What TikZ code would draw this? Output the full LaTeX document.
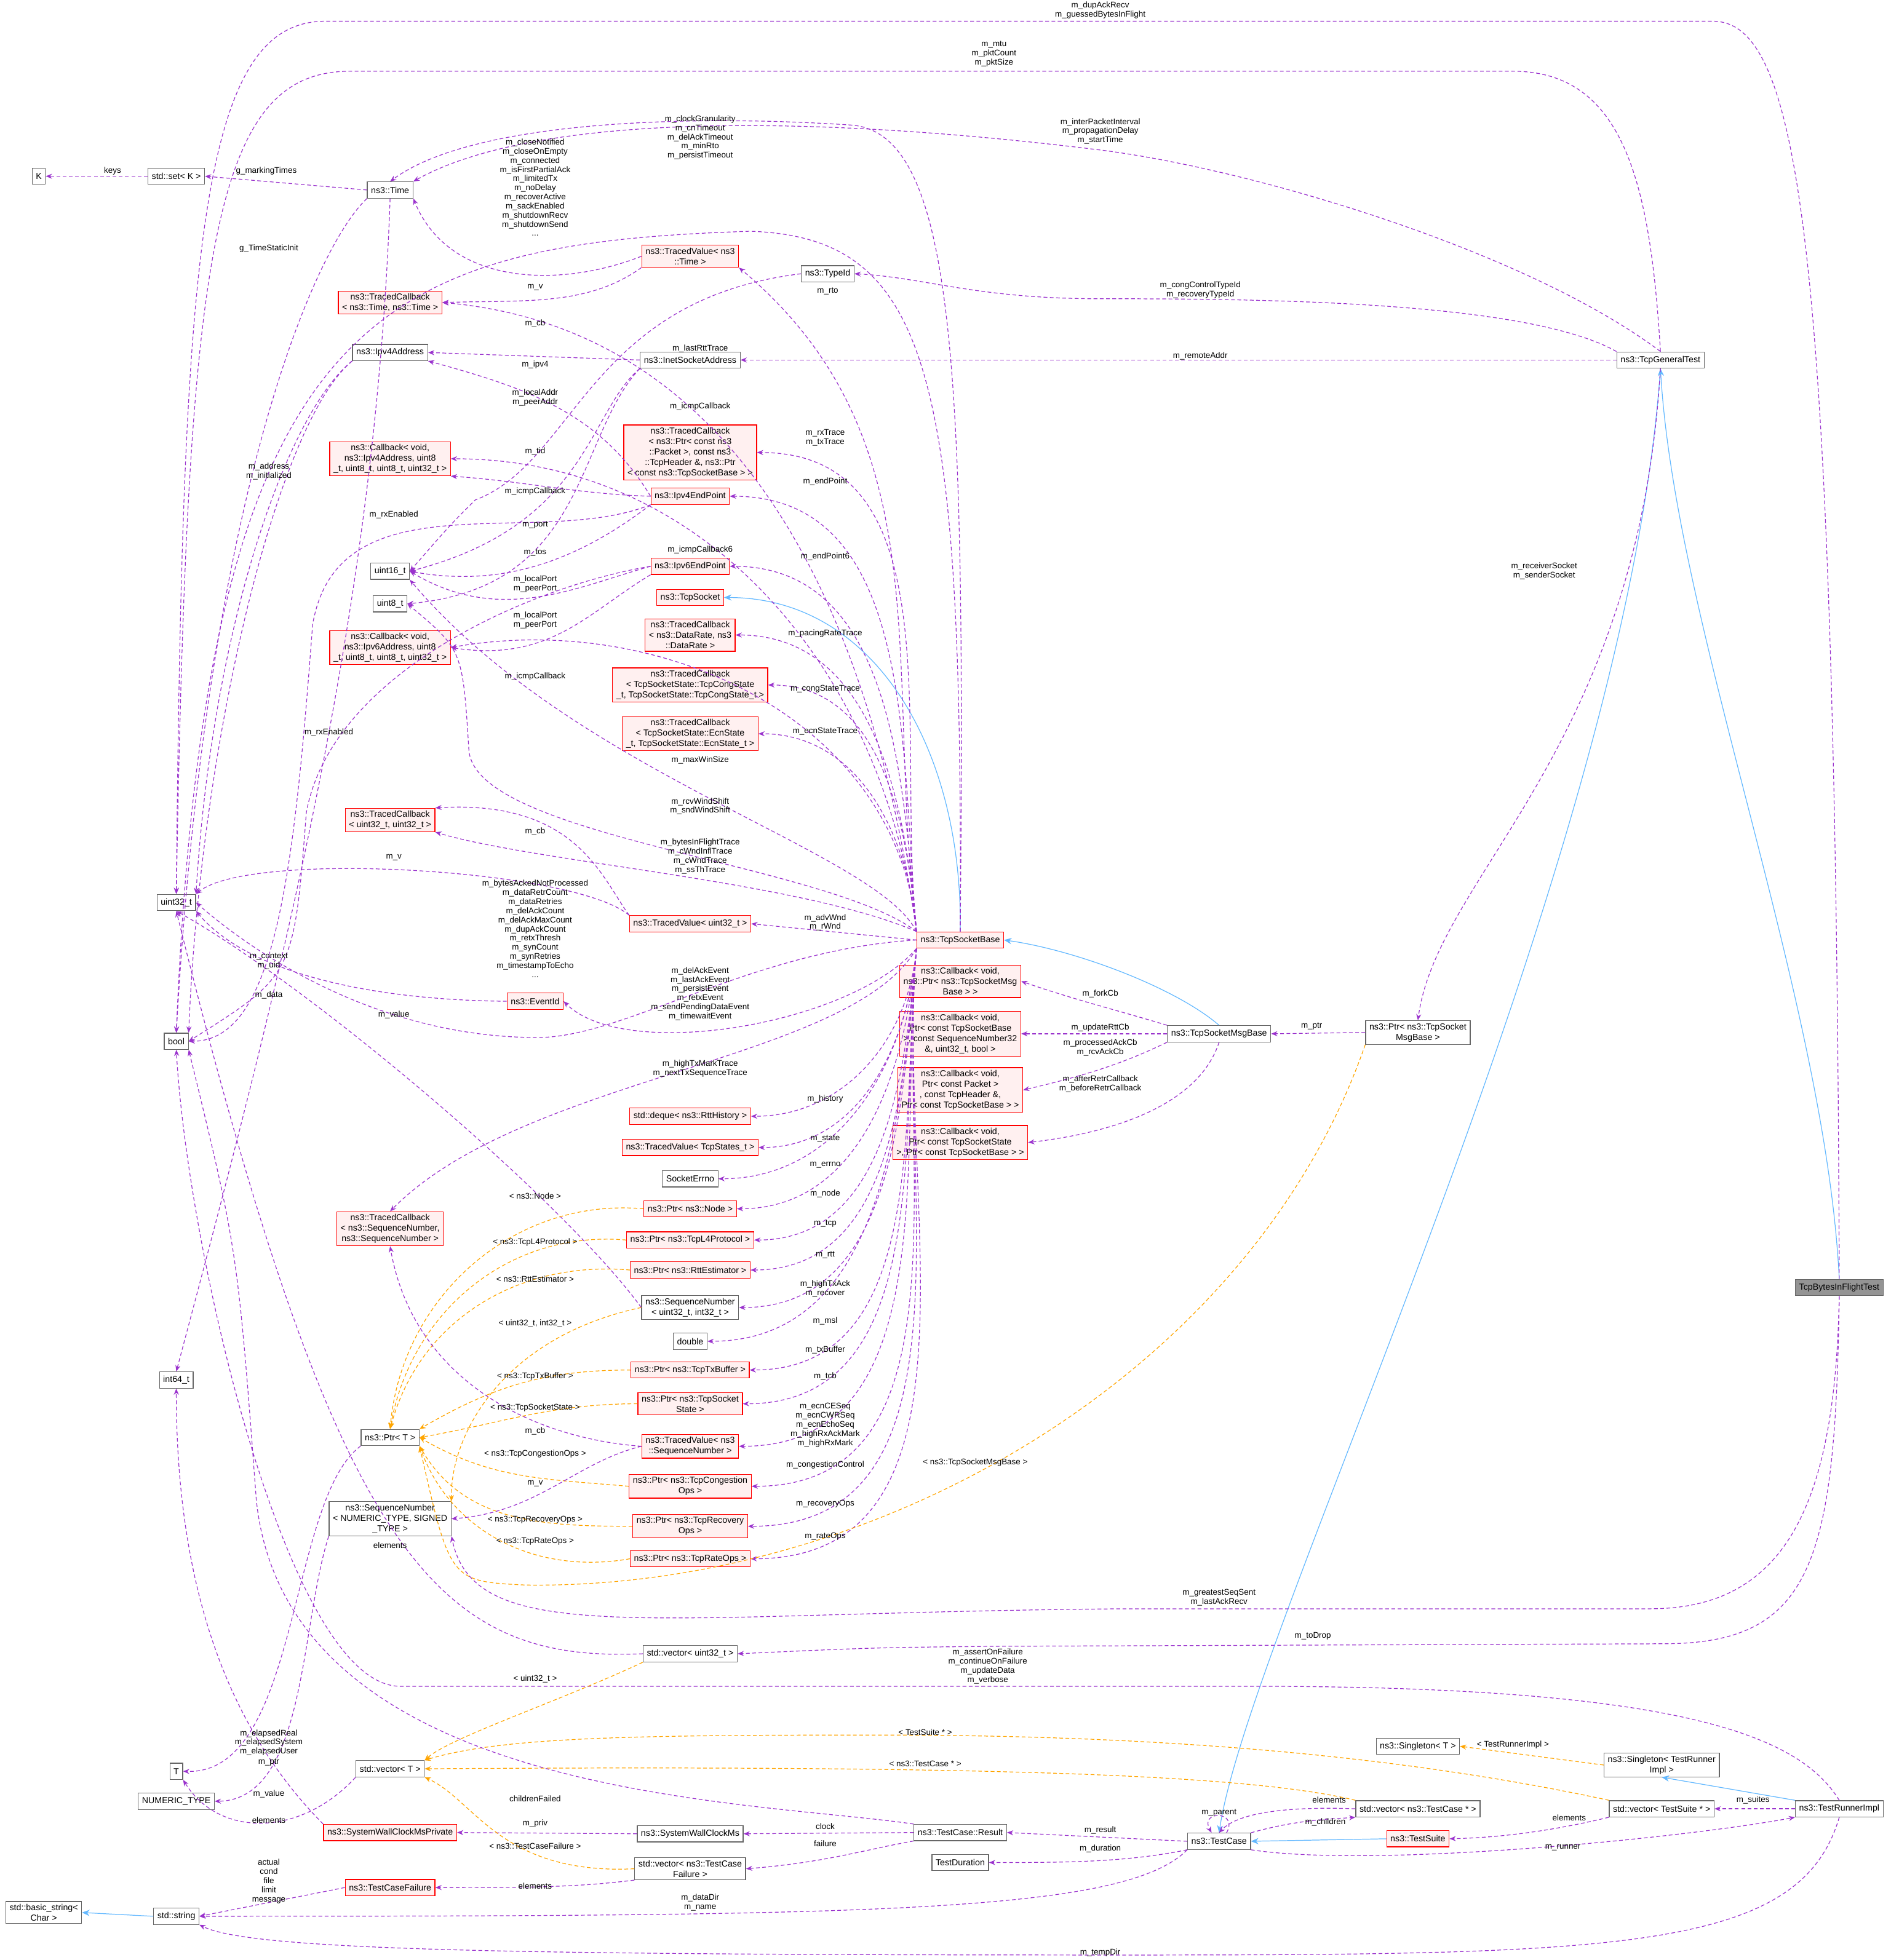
\documentclass[tikz,border=0pt]{standalone}
\usepackage{fontspec}
\setmainfont{Liberation Sans}
\usetikzlibrary{arrows.meta}
\definecolor{mempurple}{HTML}{9A32CD}
\definecolor{tplorange}{HTML}{FFA500}
\definecolor{inhblue}{HTML}{63B8FF}
\definecolor{boxgray}{HTML}{666666}
\definecolor{redfill}{HTML}{FFF0F0}

\begin{document}
\begin{tikzpicture}[
  x=1pt, y=1pt,
  font=\fontsize{7}{8.4}\selectfont,
  cls/.style={draw=boxgray, fill=white, line width=0.6pt, inner xsep=3pt,
              inner ysep=2pt, minimum height=13pt, align=center},
  rcls/.style={cls, draw=red, fill=redfill},
  gcls/.style={cls, fill=boxgray!70},
  lbl/.style={inner sep=0pt, align=center, font=\fontsize{6.6}{7.3}\selectfont},
  mem/.style={draw=mempurple, dashed, dash pattern=on 3pt off 2pt, line width=0.6pt,
              -{Stealth[length=5pt,width=4pt]}},
  tpl/.style={mem, draw=tplorange, -{Stealth[length=5pt,width=4pt]}},
  inh/.style={draw=inhblue, line width=0.6pt, -{Stealth[length=6pt,width=5pt]}}
]
\useasboundingbox (0,0) rectangle (1512,-1568);

% left column
\node[cls] (k) at (31,-141) {K};
\node[cls] (setk) at (141,-141) {std::set< K >};
\node[cls] (u32) at (141,-722) {uint32\_t};
\node[cls] (bool) at (141,-833) {bool};
\node[cls] (i64) at (141,-1104) {int64\_t};
\node[cls] (tT) at (141,-1417) {T};
\node[cls] (numtype) at (141,-1441) {NUMERIC\_TYPE};
\node[cls] (bstr) at (35,-1530) {std::basic\_string<\\Char >};
\node[cls] (str) at (141,-1533) {std::string};

% second column
\node[cls] (time) at (312,-152) {ns3::Time};
\node[rcls] (tctime) at (312,-242) {ns3::TracedCallback\\< ns3::Time, ns3::Time >};
\node[cls] (ipv4) at (312,-282) {ns3::Ipv4Address};
\node[rcls] (cbipv4) at (312,-367) {ns3::Callback< void,\\ ns3::Ipv4Address, uint8\\\_t, uint8\_t, uint8\_t, uint32\_t >};
\node[cls] (u16) at (312,-457) {uint16\_t};
\node[cls] (u8) at (312,-483) {uint8\_t};
\node[rcls] (cbipv6) at (312,-518) {ns3::Callback< void,\\ ns3::Ipv6Address, uint8\\\_t, uint8\_t, uint8\_t, uint32\_t >};
\node[rcls] (tc32) at (312,-656) {ns3::TracedCallback\\< uint32\_t, uint32\_t >};
\node[rcls] (evid) at (428,-801) {ns3::EventId};
\node[rcls] (tcseq) at (312,-983) {ns3::TracedCallback\\< ns3::SequenceNumber,\\ ns3::SequenceNumber >};
\node[cls] (ptrt) at (312,-1150) {ns3::Ptr< T >};
\node[cls] (seqnt) at (312,-1215) {ns3::SequenceNumber\\< NUMERIC\_TYPE, SIGNED\\\_TYPE >};
\node[cls] (vect) at (312,-1415) {std::vector< T >};
\node[rcls] (swpriv) at (312,-1466) {ns3::SystemWallClockMsPrivate};
\node[rcls] (tcfail) at (312,-1510) {ns3::TestCaseFailure};

% third column
\node[rcls] (tvtime) at (552,-205) {ns3::TracedValue< ns3\\::Time >};
\node[cls] (typeid) at (662,-219) {ns3::TypeId};
\node[cls] (inet) at (552,-288) {ns3::InetSocketAddress};
\node[rcls] (tcpkt) at (552,-362) {ns3::TracedCallback\\< ns3::Ptr< const ns3\\::Packet >, const ns3\\::TcpHeader \&, ns3::Ptr\\< const ns3::TcpSocketBase > >};
\node[rcls] (ipv4ep) at (552,-397) {ns3::Ipv4EndPoint};
\node[rcls] (ipv6ep) at (552,-453) {ns3::Ipv6EndPoint};
\node[rcls] (tcpsock) at (552,-478) {ns3::TcpSocket};
\node[rcls] (tcrate) at (552,-508) {ns3::TracedCallback\\< ns3::DataRate, ns3\\::DataRate >};
\node[rcls] (tccong) at (552,-548) {ns3::TracedCallback\\< TcpSocketState::TcpCongState\\\_t, TcpSocketState::TcpCongState\_t >};
\node[rcls] (tcecn) at (552,-587) {ns3::TracedCallback\\< TcpSocketState::EcnState\\\_t, TcpSocketState::EcnState\_t >};
\node[rcls] (tv32) at (552,-739) {ns3::TracedValue< uint32\_t >};
\node[rcls] (deque) at (552,-893) {std::deque< ns3::RttHistory >};
\node[rcls] (tvstates) at (552,-918) {ns3::TracedValue< TcpStates\_t >};
\node[cls] (errno) at (552,-943) {SocketErrno};
\node[rcls] (ptrnode) at (552,-967) {ns3::Ptr< ns3::Node >};
\node[rcls] (ptrtcp) at (552,-992) {ns3::Ptr< ns3::TcpL4Protocol >};
\node[rcls] (ptrrtt) at (552,-1016) {ns3::Ptr< ns3::RttEstimator >};
\node[cls] (seq32) at (552,-1046) {ns3::SequenceNumber\\< uint32\_t, int32\_t >};
\node[cls] (dbl) at (552,-1073) {double};
\node[rcls] (ptrtx) at (552,-1096) {ns3::Ptr< ns3::TcpTxBuffer >};
\node[rcls] (ptrtcb) at (552,-1123) {ns3::Ptr< ns3::TcpSocket\\State >};
\node[rcls] (tvseq) at (552,-1157) {ns3::TracedValue< ns3\\::SequenceNumber >};
\node[rcls] (ptrcong) at (552,-1189) {ns3::Ptr< ns3::TcpCongestion\\Ops >};
\node[rcls] (ptrrec) at (552,-1221) {ns3::Ptr< ns3::TcpRecovery\\Ops >};
\node[rcls] (ptrrate) at (552,-1247) {ns3::Ptr< ns3::TcpRateOps >};
\node[cls] (vec32) at (552,-1323) {std::vector< uint32\_t >};
\node[cls] (sw) at (552,-1467) {ns3::SystemWallClockMs};
\node[cls] (vectcf) at (552,-1495) {std::vector< ns3::TestCase\\Failure >};

% fourth column
\node[rcls] (tsb) at (768,-752) {ns3::TcpSocketBase};
\node[rcls] (cbfork) at (768,-785) {ns3::Callback< void,\\ ns3::Ptr< ns3::TcpSocketMsg\\Base > >};
\node[rcls] (cbrtt) at (768,-827) {ns3::Callback< void,\\ Ptr< const TcpSocketBase\\ >, const SequenceNumber32\\ \&, uint32\_t, bool >};
\node[rcls] (cback) at (768,-872) {ns3::Callback< void,\\ Ptr< const Packet >\\, const TcpHeader \&,\\ Ptr< const TcpSocketBase > >};
\node[rcls] (cbretr) at (768,-914) {ns3::Callback< void,\\ Ptr< const TcpSocketState\\ >, Ptr< const TcpSocketBase > >};
\node[cls] (result) at (768,-1466) {ns3::TestCase::Result};
\node[cls] (duration) at (768,-1490) {TestDuration};

% right part
\node[cls] (msgbase) at (975,-827) {ns3::TcpSocketMsgBase};
\node[cls] (testcase) at (975,-1473) {ns3::TestCase};
\node[cls] (ptrmsg) at (1134,-826) {ns3::Ptr< ns3::TcpSocket\\MsgBase >};
\node[cls] (singt) at (1134,-1397) {ns3::Singleton< T >};
\node[cls] (vectc) at (1134,-1447) {std::vector< ns3::TestCase * >};
\node[rcls] (suite) at (1134,-1471) {ns3::TestSuite};
\node[cls] (gentest) at (1328,-288) {ns3::TcpGeneralTest};
\node[cls] (singtr) at (1329,-1412) {ns3::Singleton< TestRunner\\Impl >};
\node[cls] (vects) at (1329,-1447) {std::vector< TestSuite * >};
\node[cls] (runner) at (1471,-1447) {ns3::TestRunnerImpl};
\node[gcls] (bift) at (1471,-1030) {TcpBytesInFlightTest};

% inheritance
\draw[inh] (tsb.north) .. controls (770,-600) and (700,-478) .. (tcpsock.east);
\draw[inh] (msgbase.north) .. controls (940,-790) and (860,-760) .. (tsb.east);
\draw[inh] (bift.north) .. controls (1460,-800) and (1340,-500) .. (gentest.south);
\draw[inh] (gentest.south) .. controls (1300,-700) and (1000,-1300) .. (testcase.north);
\draw[inh] (suite.west) -- (testcase.east);
\draw[inh] (runner.north west) -- (singtr.south);
\draw[inh] (str.west) -- (bstr.east);

% long edges from the test classes
\draw[mem] (bift.north) .. controls (1468,-200) and (1440,-17) .. (1370,-17)
  -- (260,-17) .. controls (160,-17) and (146,-200) .. (u32.north);
\draw[mem] (gentest.north) .. controls (1320,-150) and (1300,-57) .. (1210,-57)
  -- (280,-57) .. controls (170,-57) and (150,-200) .. (u32.north);
\draw[mem] (gentest.north) .. controls (1220,-200) and (1000,-135) .. (880,-120)
  .. controls (620,-88) and (420,-95) .. (time.north east);
\draw[mem] (gentest.north west) .. controls (1220,-240) and (1000,-239) .. (880,-239)
  .. controls (780,-239) and (740,-222) .. (typeid.east);
\draw[mem] (gentest.west) -- (inet.east);
\draw[mem] (gentest.south) .. controls (1310,-600) and (1150,-700) .. (ptrmsg.north);
\draw[mem] (bift.south) .. controls (1468,-1200) and (1430,-1287) .. (1320,-1287)
  -- (900,-1287) .. controls (520,-1290) and (380,-1320) .. (seqnt.south east);
\draw[mem] (bift.south) .. controls (1468,-1250) and (1450,-1315) .. (1330,-1315)
  -- (800,-1317) .. controls (700,-1318) .. (vec32.east);
\draw[mem] (runner.north) .. controls (1440,-1390) and (1350,-1349) .. (1000,-1349)
  -- (320,-1349) .. controls (230,-1349) and (150,-1000) .. (bool.south);
\draw[mem] (runner.south) .. controls (1440,-1560) and (1300,-1564) .. (900,-1564)
  .. controls (400,-1564) and (200,-1560) .. (str.south east);

% Time and friends
\draw[mem] (setk.west) -- (k.east);
\draw[mem] (time.west) -- (setk.east);
\draw[mem] (tsb.north) .. controls (772,-300) and (765,-105) .. (680,-100)
  .. controls (560,-92) and (380,-95) .. (time.north);
\draw[mem] (tsb.north) .. controls (770,-300) and (745,-190) .. (600,-185)
  .. controls (300,-195) and (165,-250) .. (bool.north);
\draw[mem] (time.south west) .. controls (250,-200) and (165,-400) .. (bool.north);
\draw[mem] (time.south) .. controls (300,-500) and (220,-800) .. (i64.north);
\draw[mem] (tvtime.west) .. controls (450,-230) and (360,-230) .. (time.south east);
\draw[mem] (tvtime.south west) .. controls (470,-245) and (420,-240) .. (tctime.east);
\draw[mem] (tsb.north west) to[out=97,in=-40] (tvtime.south east);
\draw[mem] (tsb.north west) to[out=98,in=-5] (tctime.east);

% addresses and end points
\draw[mem] (inet.west) -- (ipv4.east);
\draw[mem] (ipv4ep.west) .. controls (480,-330) and (420,-310) .. (ipv4.south east);
\draw[mem] (ipv4.south west) .. controls (230,-330) and (170,-500) .. (u32.north east);
\draw[mem] (ipv4.south west) .. controls (220,-340) and (160,-600) .. (bool.north east);
\draw[mem] (tsb.north west) to[out=97,in=0] (cbipv4.east);
\draw[mem] (typeid.west) .. controls (470,-240) and (460,-370) .. (380,-400)
  .. controls (360,-420) .. (u16.east);
\draw[mem] (tsb.north west) to[out=96,in=0] (tcpkt.east);
\draw[mem] (ipv4ep.west) .. controls (460,-395) and (420,-385) .. (cbipv4.south east);
\draw[mem] (inet.south west) .. controls (470,-330) and (470,-420) .. (u16.east);
\draw[mem] (tsb.north west) to[out=95,in=0] (ipv4ep.east);
\draw[mem] (inet.south west) .. controls (460,-350) and (470,-470) .. (u8.east);
\draw[mem] (ipv4ep.south west) .. controls (430,-440) and (270,-380) .. (250,-500)
  .. controls (235,-700) and (220,-833) .. (bool.east);
\draw[mem] (tsb.north west) to[out=95,in=10] (cbipv6.east);
\draw[mem] (tsb.north west) to[out=95,in=0] (ipv6ep.east);
\draw[mem] (ipv4ep.south west) .. controls (460,-450) and (400,-470) .. (u16.east);
\draw[mem] (ipv6ep.west) .. controls (460,-470) and (400,-500) .. (u16.east);
\draw[mem] (ipv6ep.south west) .. controls (470,-490) and (440,-530) .. (cbipv6.east);
\draw[mem] (ipv6ep.west) .. controls (420,-470) and (265,-540) .. (245,-650)
  .. controls (235,-780) .. (bool.east);

% traces of the socket
\draw[mem] (tsb.north west) to[out=95,in=0] (tcrate.east);
\draw[mem] (tsb.north west) to[out=95,in=0] (tccong.east);
\draw[mem] (tsb.north west) to[out=95,in=0] (tcecn.east);
\draw[mem] (tsb.north west) .. controls (700,-680) and (460,-620) .. (u16.south east);
\draw[mem] (tsb.north west) .. controls (660,-690) and (380,-670) .. (375,-600)
  .. controls (370,-520) .. (u8.east);
\draw[mem] (tv32.north west) .. controls (480,-700) and (460,-640) .. (tc32.north east);
\draw[mem] (tsb.north west) .. controls (640,-705) and (430,-690) .. (tc32.south east);
\draw[mem] (tv32.north west) .. controls (460,-695) and (200,-680) .. (u32.north east);
\draw[mem] (tsb.west) -- (tv32.east);
\draw[mem] (tsb.west) .. controls (600,-760) and (500,-830) .. (430,-830)
  .. controls (300,-830) and (200,-760) .. (u32.east);
\draw[mem] (evid.west) .. controls (300,-800) and (200,-780) .. (u32.south east);
\draw[mem] (tsb.south west) .. controls (680,-820) and (500,-850) .. (evid.east);
\draw[mem] (seq32.west) .. controls (450,-960) and (250,-790) .. (u32.south);
\draw[mem] (tsb.south west) .. controls (680,-850) and (420,-860) .. (tcseq.north);

% message base
\draw[mem] (ptrmsg.west) -- (msgbase.east);
\draw[mem] (msgbase.north west) .. controls (900,-810) and (860,-800) .. (cbfork.east);
\draw[mem] (msgbase.west) -- (cbrtt.east);
\draw[mem] (msgbase.south west) .. controls (900,-850) and (870,-860) .. (cback.east);
\draw[mem] (msgbase.south) .. controls (960,-880) and (900,-905) .. (cbretr.east);

% lower members of the socket
\draw[mem] (tsb.south west) to[out=-95,in=0] (deque.east);
\draw[mem] (tsb.south west) to[out=-95,in=0] (tvstates.east);
\draw[mem] (tsb.south west) to[out=-95,in=0] (errno.east);
\draw[mem] (tsb.south west) to[out=-95,in=0] (ptrnode.east);
\draw[mem] (tsb.south west) to[out=-95,in=0] (ptrtcp.east);
\draw[mem] (tsb.south west) to[out=-95,in=0] (ptrrtt.east);
\draw[mem] (tsb.south west) to[out=-95,in=0] (seq32.east);
\draw[mem] (tsb.south west) to[out=-95,in=0] (dbl.east);
\draw[mem] (tsb.south west) to[out=-95,in=0] (ptrtx.east);
\draw[mem] (tsb.south west) to[out=-95,in=0] (ptrtcb.east);
\draw[mem] (tsb.south west) to[out=-95,in=0] (tvseq.east);
\draw[mem] (tsb.south west) to[out=-95,in=0] (ptrcong.east);
\draw[mem] (tsb.south west) to[out=-95,in=0] (ptrrec.east);
\draw[mem] (tsb.south west) to[out=-95,in=0] (ptrrate.east);

% template instances of Ptr
\draw[tpl] (ptrnode.west) to[out=175,in=85] (ptrt.north);
\draw[tpl] (ptrtcp.west) to[out=175,in=80] (ptrt.north);
\draw[tpl] (ptrrtt.west) to[out=175,in=75] (ptrt.north);
\draw[tpl] (ptrtx.west) to[out=180,in=30] (ptrt.north east);
\draw[tpl] (ptrtcb.west) to[out=180,in=10] (ptrt.east);
\draw[tpl] (ptrcong.west) to[out=175,in=-30] (ptrt.east);
\draw[tpl] (ptrrec.west) to[out=180,in=-60] (ptrt.south east);
\draw[tpl] (ptrrate.west) to[out=190,in=-70] (ptrt.south east);
\draw[tpl] (ptrmsg.south west) .. controls (1000,-1100) and (700,-1272) .. (420,-1268)
  .. controls (360,-1265) .. (ptrt.south east);
\draw[tpl] (seq32.west) .. controls (400,-1070) and (360,-1150) .. (seqnt.north east);
\draw[mem] (tvseq.west) .. controls (420,-1150) and (330,-1100) .. (tcseq.south);
\draw[mem] (tvseq.west) .. controls (460,-1170) and (430,-1210) .. (seqnt.east);

% small templates
\draw[mem] (ptrt.south west) .. controls (230,-1200) and (240,-1420) .. (tT.east);
\draw[mem] (seqnt.south west) .. controls (240,-1300) and (245,-1440) .. (numtype.east);
\draw[mem] (vect.south west) .. controls (240,-1470) and (175,-1470) .. (tT.south east);
\draw[mem] (vec32.west) .. controls (350,-1330) and (270,-1250) .. (u32.south);
\draw[tpl] (vec32.south west) .. controls (450,-1360) and (360,-1390) .. (vect.north east);
\draw[tpl] (vects.north west) .. controls (1100,-1400) and (900,-1388) .. (700,-1388)
  .. controls (500,-1388) and (400,-1390) .. (vect.north east);
\draw[tpl] (singtr.west) -- (singt.east);
\draw[tpl] (vectc.north west) .. controls (1000,-1420) and (800,-1412) .. (vect.east);

% test case results
\draw[mem] (result.north west) .. controls (600,-1440) and (230,-1440) .. (205,-1200)
  .. controls (190,-1000) .. (bool.south east);
\draw[mem] (sw.west) -- (swpriv.east);
\draw[mem] (result.west) -- (sw.east);
\draw[mem] (result.south west) .. controls (690,-1480) and (660,-1490) .. (vectcf.east);
\draw[tpl] (vectcf.west) .. controls (400,-1500) and (380,-1440) .. (vect.south east);
\draw[mem] (swpriv.north west) .. controls (200,-1400) and (141,-1300) .. (i64.south);
\draw[mem] (vectcf.south west) .. controls (460,-1510) and (420,-1510) .. (tcfail.east);
\draw[mem] (tcfail.west) -- (str.east);
\draw[mem] (testcase.south west) .. controls (900,-1530) and (700,-1533) .. (str.east);
\draw[mem] (testcase.west) -- (result.east);
\draw[mem] (testcase.south west) .. controls (900,-1490) and (850,-1490) .. (duration.east);
\draw[mem] ([xshift=6pt]testcase.north) .. controls +(10,18) and +(-10,18) .. ([xshift=-6pt]testcase.north);
\draw[mem] (testcase.north east) .. controls (1040,-1455) and (1070,-1455) .. (vectc.south west);
\draw[mem] (vectc.west) .. controls (1030,-1445) and (990,-1450) .. (testcase.north);
\draw[mem] (testcase.south east) .. controls (1100,-1495) and (1350,-1470) .. (runner.south west);
\draw[mem] (runner.west) -- (vects.east);
\draw[mem] (vects.south west) .. controls (1240,-1465) and (1200,-1470) .. (suite.east);

% labels
\node[lbl] (l1) at (880,-8) {m\_dupAckRecv\\m\_guessedBytesInFlight};
\node[lbl] (l2) at (795,-43) {m\_mtu\\m\_pktCount\\m\_pktSize};
\node[lbl] (l3) at (90,-137) {keys};
\node[lbl] (l4) at (213,-137) {g\_markingTimes};
\node[lbl] (l5) at (560,-110) {m\_clockGranularity\\m\_cnTimeout\\m\_delAckTimeout\\m\_minRto\\m\_persistTimeout};
\node[lbl] (l6) at (880,-105) {m\_interPacketInterval\\m\_propagationDelay\\m\_startTime};
\node[lbl] (l7) at (428,-150) {m\_closeNotified\\m\_closeOnEmpty\\m\_connected\\m\_isFirstPartialAck\\m\_limitedTx\\m\_noDelay\\m\_recoverActive\\m\_sackEnabled\\m\_shutdownRecv\\m\_shutdownSend\\...};
\node[lbl] (l8) at (215,-199) {g\_TimeStaticInit};
\node[lbl] (l9) at (428,-230) {m\_v};
\node[lbl] (l10) at (428,-259) {m\_cb};
\node[lbl] (l11) at (662,-233) {m\_rto};
\node[lbl] (l12) at (960,-232) {m\_congControlTypeId\\m\_recoveryTypeId};
\node[lbl] (l13) at (560,-279) {m\_lastRttTrace};
\node[lbl] (l14) at (428,-292) {m\_ipv4};
\node[lbl] (l15) at (960,-285) {m\_remoteAddr};
\node[lbl] (l16) at (428,-318) {m\_localAddr\\m\_peerAddr};
\node[lbl] (l17) at (560,-325) {m\_icmpCallback};
\node[lbl] (l18) at (215,-377) {m\_address\\m\_initialized};
\node[lbl] (l19) at (428,-361) {m\_tid};
\node[lbl] (l20) at (660,-350) {m\_rxTrace\\m\_txTrace};
\node[lbl] (l21) at (428,-393) {m\_icmpCallback};
\node[lbl] (l22) at (428,-420) {m\_port};
\node[lbl] (l23) at (660,-385) {m\_endPoint};
\node[lbl] (l24) at (428,-442) {m\_tos};
\node[lbl] (l25) at (315,-412) {m\_rxEnabled};
\node[lbl] (l26) at (560,-440) {m\_icmpCallback6};
\node[lbl] (l27) at (660,-445) {m\_endPoint6};
\node[lbl] (l28) at (428,-467) {m\_localPort\\m\_peerPort};
\node[lbl] (l29) at (428,-496) {m\_localPort\\m\_peerPort};
\node[lbl] (l30) at (428,-541) {m\_icmpCallback};
\node[lbl] (l31) at (660,-507) {m\_pacingRateTrace};
\node[lbl] (l32) at (1235,-457) {m\_receiverSocket\\m\_senderSocket};
\node[lbl] (l33) at (660,-551) {m\_congStateTrace};
\node[lbl] (l34) at (660,-585) {m\_ecnStateTrace};
\node[lbl] (l35) at (263,-586) {m\_rxEnabled};
\node[lbl] (l36) at (560,-608) {m\_maxWinSize};
\node[lbl] (l37) at (560,-645) {m\_rcvWindShift\\m\_sndWindShift};
\node[lbl] (l38) at (428,-665) {m\_cb};
\node[lbl] (l39) at (560,-685) {m\_bytesInFlightTrace\\m\_cWndInflTrace\\m\_cWndTrace\\m\_ssThTrace};
\node[lbl] (l40) at (315,-686) {m\_v};
\node[lbl] (l41) at (660,-738) {m\_advWnd\\m\_rWnd};
\node[lbl] (l42) at (428,-743) {m\_bytesAckedNotProcessed\\m\_dataRetrCount\\m\_dataRetries\\m\_delAckCount\\m\_delAckMaxCount\\m\_dupAckCount\\m\_retxThresh\\m\_synCount\\m\_synRetries\\m\_timestampToEcho\\...};
\node[lbl] (l43) at (215,-769) {m\_context\\m\_uid};
\node[lbl] (l44) at (215,-796) {m\_data};
\node[lbl] (l45) at (560,-795) {m\_delAckEvent\\m\_lastAckEvent\\m\_persistEvent\\m\_retxEvent\\m\_sendPendingDataEvent\\m\_timewaitEvent};
\node[lbl] (l46) at (315,-812) {m\_value};
\node[lbl] (l47) at (880,-795) {m\_forkCb};
\node[lbl] (l48) at (1049,-821) {m\_ptr};
\node[lbl] (l49) at (880,-822) {m\_updateRttCb};
\node[lbl] (l50) at (880,-838) {m\_processedAckCb\\m\_rcvAckCb};
\node[lbl] (l51) at (560,-855) {m\_highTxMarkTrace\\m\_nextTxSequenceTrace};
\node[lbl] (l52) at (880,-867) {m\_afterRetrCallback\\m\_beforeRetrCallback};
\node[lbl] (l53) at (660,-879) {m\_history};
\node[lbl] (l54) at (660,-911) {m\_state};
\node[lbl] (l55) at (660,-932) {m\_errno};
\node[lbl] (l56) at (428,-957) {< ns3::Node >};
\node[lbl] (l57) at (660,-955) {m\_node};
\node[lbl] (l58) at (428,-994) {< ns3::TcpL4Protocol >};
\node[lbl] (l59) at (660,-979) {m\_tcp};
\node[lbl] (l60) at (428,-1023) {< ns3::RttEstimator >};
\node[lbl] (l61) at (660,-1004) {m\_rtt};
\node[lbl] (l62) at (660,-1031) {m\_highTxAck\\m\_recover};
\node[lbl] (l63) at (428,-1059) {< uint32\_t, int32\_t >};
\node[lbl] (l64) at (660,-1057) {m\_msl};
\node[lbl] (l65) at (660,-1080) {m\_txBuffer};
\node[lbl] (l66) at (428,-1101) {< ns3::TcpTxBuffer >};
\node[lbl] (l67) at (660,-1101) {m\_tcb};
\node[lbl] (l68) at (428,-1126) {< ns3::TcpSocketState >};
\node[lbl] (l69) at (660,-1140) {m\_ecnCESeq\\m\_ecnCWRSeq\\m\_ecnEchoSeq\\m\_highRxAckMark\\m\_highRxMark};
\node[lbl] (l70) at (428,-1145) {m\_cb};
\node[lbl] (l71) at (428,-1163) {< ns3::TcpCongestionOps >};
\node[lbl] (l72) at (660,-1172) {m\_congestionControl};
\node[lbl] (l73) at (780,-1170) {< ns3::TcpSocketMsgBase >};
\node[lbl] (l74) at (428,-1187) {m\_v};
\node[lbl] (l75) at (660,-1203) {m\_recoveryOps};
\node[lbl] (l76) at (428,-1216) {< ns3::TcpRecoveryOps >};
\node[lbl] (l77) at (312,-1236) {elements};
\node[lbl] (l78) at (428,-1233) {< ns3::TcpRateOps >};
\node[lbl] (l79) at (660,-1229) {m\_rateOps};
\node[lbl] (l80) at (975,-1278) {m\_greatestSeqSent\\m\_lastAckRecv};
\node[lbl] (l81) at (1050,-1309) {m\_toDrop};
\node[lbl] (l82) at (790,-1333) {m\_assertOnFailure\\m\_continueOnFailure\\m\_updateData\\m\_verbose};
\node[lbl] (l83) at (428,-1343) {< uint32\_t >};
\node[lbl] (l84) at (215,-1394) {m\_elapsedReal\\m\_elapsedSystem\\m\_elapsedUser};
\node[lbl] (l85) at (740,-1386) {< TestSuite * >};
\node[lbl] (l86) at (1210,-1396) {< TestRunnerImpl >};
\node[lbl] (l87) at (215,-1410) {m\_ptr};
\node[lbl] (l88) at (740,-1411) {< ns3::TestCase * >};
\node[lbl] (l89) at (215,-1435) {m\_value};
\node[lbl] (l90) at (428,-1439) {childrenFailed};
\node[lbl] (l91) at (215,-1456) {elements};
\node[lbl] (l92) at (428,-1459) {m\_priv};
\node[lbl] (l93) at (660,-1461) {clock};
\node[lbl] (l94) at (428,-1477) {< ns3::TestCaseFailure >};
\node[lbl] (l95) at (660,-1475) {failure};
\node[lbl] (l96) at (975,-1450) {m\_parent};
\node[lbl] (l97) at (1063,-1440) {elements};
\node[lbl] (l98) at (1060,-1458) {m\_children};
\node[lbl] (l99) at (1255,-1454) {elements};
\node[lbl] (l100) at (1402,-1440) {m\_suites};
\node[lbl] (l101) at (880,-1464) {m\_result};
\node[lbl] (l102) at (880,-1479) {m\_duration};
\node[lbl] (l103) at (1250,-1478) {m\_runner};
\node[lbl] (l104) at (215,-1505) {actual\\cond\\file\\limit\\message};
\node[lbl] (l105) at (428,-1509) {elements};
\node[lbl] (l106) at (560,-1522) {m\_dataDir\\m\_name};
\node[lbl] (l107) at (880,-1562) {m\_tempDir};
\end{tikzpicture}
\end{document}
